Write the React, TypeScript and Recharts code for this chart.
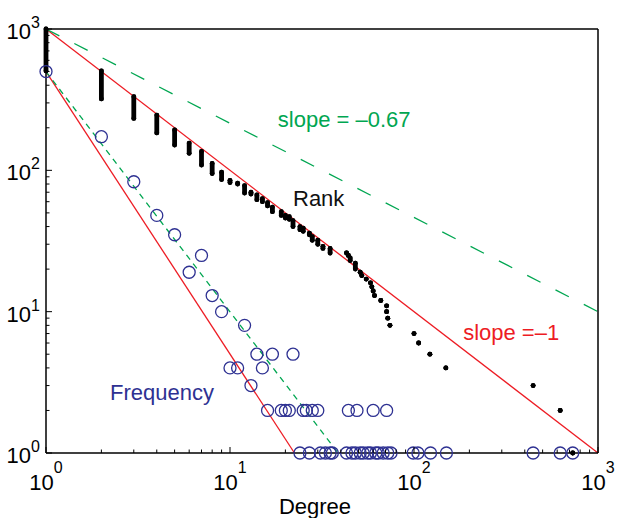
import React from 'react';
import { ScatterChart, Scatter, XAxis, YAxis, ReferenceLine, ReferenceDot } from 'recharts';

// ---- axis ticks ----
const decadeTicks = [1, 10, 100, 1000];
const decadeExponents = ['0', '1', '2', '3'];
const minorTicks = [2, 3, 4, 5, 6, 7, 8, 9, 20, 30, 40, 50, 60, 70, 80, 90, 200, 300, 400, 500, 600, 700, 800, 900];
const allTicks = [...decadeTicks, ...minorTicks].sort((a, b) => a - b);

// ---- Rank data: degree, highest rank, lowest rank (vertical runs of dots) ----
const rankDegree = [1, 2, 3, 4, 5, 6, 7, 8, 9, 10, 11, 12, 13, 14, 15, 16, 17, 19, 20, 21, 22, 24, 25, 27, 28, 30, 32, 35, 43, 44, 45, 48, 51, 52, 55, 58, 59, 60, 61, 66, 71, 71, 72, 74, 100, 106, 122, 149, 444, 623, 729];
const rankTop = [1000, 505, 332, 246, 193, 156, 136, 112, 97, 85, 81, 78, 70, 67, 63, 59, 55, 51, 48, 47, 44, 40, 39, 36, 34, 32, 29, 28, 26, 25, 24, 22, 19, 18, 17, 16, 15, 14, 13, 12, 11, 10, 9, 8, 7, 6, 5, 4, 3, 2, 1];
const rankBottom = [505, 320, 233, 184, 151, 132, 109, 95, 86, 82, 80, 69, 68, 62, 60, 56, 51, 48, 46, 45, 40, 38, 37, 35, 32, 30, 28, 26, 26, 25, 23, 20, 19, 18, 17, 16, 15, 14, 13, 12, 11, 10, 9, 8, 7, 6, 5, 4, 3, 2, 1];

// ---- Frequency data: degree, number of nodes ----
const freqDegree = [1, 2, 3, 4, 5, 6, 7, 8, 9, 10, 11, 12, 13, 14, 15, 16, 17, 19, 20, 21, 22, 25, 26, 28, 30, 44, 49, 60, 71,
  24, 27, 31, 33, 35, 36, 43, 46, 48, 51, 53, 56, 58, 62, 64, 68, 72, 75, 99, 105, 123, 150, 444, 623, 729];
const freqCount = [500, 173, 83, 48, 35, 19, 25, 13, 10, 4, 4, 8, 3, 5, 4, 2, 5, 2, 2, 2, 5, 2, 2, 2, 2, 2, 2, 2, 2,
  1, 1, 1, 1, 1, 1, 1, 1, 1, 1, 1, 1, 1, 1, 1, 1, 1, 1, 1, 1, 1, 1, 1, 1, 1];

// ---- fitted power-law lines ----
const fitX1 = [1, 1, 1, 1];
const fitY1 = [1000, 1000, 500, 500];
const fitX2 = [1000, 1000, 22.4, 38.7];
const fitY2 = [1, 10, 1, 1];
const fitColor = ['#ED1C24', '#00A651', '#ED1C24', '#00A651'];
const fitDash = ['', '15 16.8', '', '6 5'];

// ---- annotations ----
const noteText = ['slope = \u20130.67', 'Rank', 'slope =\u20131', 'Frequency'];
const noteX = [18.2, 22, 185, 2.23];
const noteY = [203, 56, 6.3, 2.37];
const noteColor = ['#00A651', '#111111', '#ED1C24', '#2E3192'];

const FONT = '"Liberation Sans", Arial, Helvetica, sans-serif';

const rankBars = rankDegree.map((d, i) => [
  { x: d, y: rankTop[i] },
  { x: d, y: rankBottom[i] },
]);
const freqData = freqDegree.map((d, i) => ({ x: d, y: freqCount[i] }));

const majorIndex = (v: number) => decadeTicks.indexOf(v);

const BottomTick = (props: any) => {
  const { x, y, payload } = props;
  const i = majorIndex(payload.value);
  const len = i >= 0 ? 6 : 3.5;
  return (
    <g>
      <line x1={x} y1={y} x2={x} y2={y - len} stroke="#000" strokeWidth={1} />
      {i >= 0 && (
        <text x={x} y={y + 37} textAnchor="middle" fontSize={22} fill="#000" fontFamily={FONT}>
          10<tspan dy={-17} fontSize={16}>{decadeExponents[i]}</tspan>
        </text>
      )}
    </g>
  );
};

const TopTick = (props: any) => {
  const { x, y, payload } = props;
  const i = majorIndex(payload.value);
  const len = i >= 0 ? 6 : 3.5;
  return <line x1={x} y1={y} x2={x} y2={y + len} stroke="#000" strokeWidth={1} />;
};

const LeftTick = (props: any) => {
  const { x, y, payload } = props;
  const i = majorIndex(payload.value);
  const len = i >= 0 ? 6 : 3.5;
  return (
    <g>
      <line x1={x} y1={y} x2={x + len} y2={y} stroke="#000" strokeWidth={1} />
      {i >= 0 && (
        <text x={x - 6} y={y + 10} textAnchor="end" fontSize={22} fill="#000" fontFamily={FONT}>
          10<tspan dy={-11} fontSize={16}>{decadeExponents[i]}</tspan>
        </text>
      )}
    </g>
  );
};

const RightTick = (props: any) => {
  const { x, y, payload } = props;
  const i = majorIndex(payload.value);
  const len = i >= 0 ? 6 : 3.5;
  return <line x1={x} y1={y} x2={x - len} y2={y} stroke="#000" strokeWidth={1} />;
};

const degreeLabel = (props: any) => {
  const vb = props.viewBox || {};
  return (
    <text x={vb.x + vb.width / 2 - 7} y={vb.y + 61} textAnchor="middle" fontSize={22} fill="#000" fontFamily={FONT}>
      Degree
    </text>
  );
};

const makeNote = (text: string, color: string) => (props: any) => {
  const vb = props.viewBox || {};
  return (
    <text x={vb.x} y={vb.y} textAnchor="start" fontSize={22} fill={color} fontFamily={FONT}>
      {text}
    </text>
  );
};

const rankDot = (p: any) => <circle cx={p.cx} cy={p.cy} r={2.4} fill="#000" />;
const freqCircle = (p: any) => (
  <circle cx={p.cx} cy={p.cy} r={6} fill="none" stroke="#2E3192" strokeWidth={1.3} />
);

const axisLine = { stroke: '#000', strokeWidth: 1.5 };

export default function App() {
  return (
    <div style={{ width: 617, height: 518, fontFamily: FONT, background: '#fff' }}>
      <style>{'body{margin:0;}'}</style>
      <ScatterChart width={617} height={518} margin={{ top: 28, right: 18, bottom: 64, left: 45 }}>
        <XAxis
          type="number"
          dataKey="x"
          scale="log"
          domain={[1, 1000]}
          ticks={allTicks}
          interval={0}
          height={1}
          tickSize={0}
          tickMargin={0}
          tickLine={false}
          tick={<BottomTick />}
          axisLine={axisLine}
          label={degreeLabel}
        />
        <XAxis
          xAxisId="top"
          orientation="top"
          type="number"
          dataKey="x"
          scale="log"
          domain={[1, 1000]}
          ticks={allTicks}
          interval={0}
          height={1}
          tickSize={0}
          tickMargin={0}
          tickLine={false}
          tick={<TopTick />}
          axisLine={axisLine}
        />
        <YAxis
          type="number"
          dataKey="y"
          scale="log"
          domain={[1, 1000]}
          ticks={allTicks}
          interval={0}
          width={1}
          tickSize={0}
          tickMargin={0}
          tickLine={false}
          tick={<LeftTick />}
          axisLine={axisLine}
        />
        <YAxis
          yAxisId="right"
          orientation="right"
          type="number"
          dataKey="y"
          scale="log"
          domain={[1, 1000]}
          ticks={allTicks}
          interval={0}
          width={1}
          tickSize={0}
          tickMargin={0}
          tickLine={false}
          tick={<RightTick />}
          axisLine={axisLine}
        />
        {fitX1.map((x1, i) => (
          <ReferenceLine
            key={'fit' + i}
            segment={[{ x: x1, y: fitY1[i] }, { x: fitX2[i], y: fitY2[i] }]}
            stroke={fitColor[i]}
            strokeWidth={1.3}
            strokeDasharray={fitDash[i] || undefined}
            ifOverflow="visible"
          />
        ))}
        {rankBars.map((bar, i) => (
          <Scatter
            key={'rank' + i}
            data={bar}
            fill="#000"
            line={{ stroke: '#000', strokeWidth: 4.8, strokeLinecap: 'round' }}
            lineType="joint"
            shape={rankDot}
            isAnimationActive={false}
          />
        ))}
        <Scatter data={freqData} shape={freqCircle} isAnimationActive={false} />
        {noteText.map((t, i) => (
          <ReferenceDot
            key={'note' + i}
            x={noteX[i]}
            y={noteY[i]}
            r={0}
            ifOverflow="visible"
            label={makeNote(t, noteColor[i])}
          />
        ))}
      </ScatterChart>
    </div>
  );
}
